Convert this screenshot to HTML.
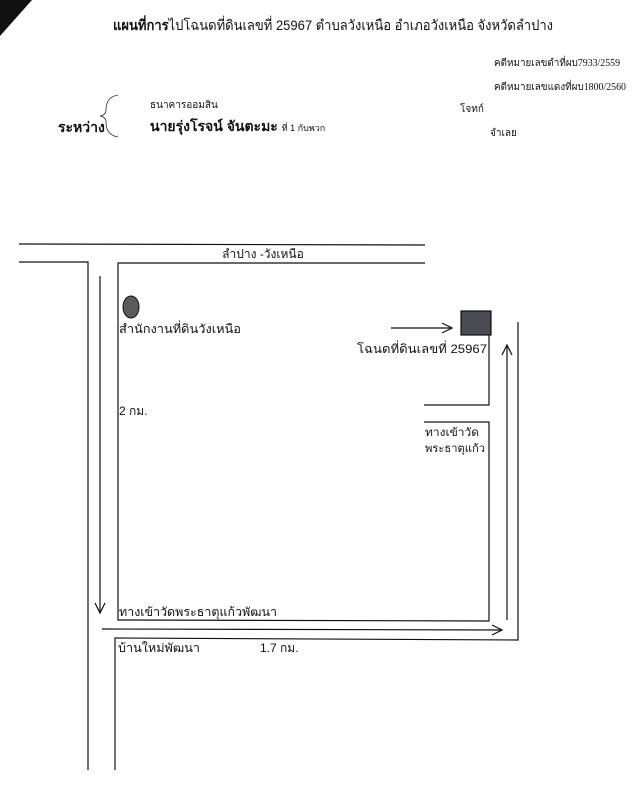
<!DOCTYPE html>
<html><head><meta charset="utf-8"><style>
body{margin:0;background:#fff;}
svg text{font-family:"Liberation Sans","Noto Sans CJK SC",sans-serif;fill:#111;}
</style></head><body>
<svg width="641" height="800" viewBox="0 0 641 800" xmlns="http://www.w3.org/2000/svg">
<rect width="641" height="800" fill="#fff"/>
<polygon points="0,0 32,0 0,36" fill="#111"/>
<text x="113" y="30" font-size="14" textLength="440" lengthAdjust="spacingAndGlyphs"><tspan font-weight="bold">แผนที่การ</tspan>ไปโฉนดที่ดินเลขที่  25967  ตำบลวังเหนือ  อำเภอวังเหนือ จังหวัดลำปาง</text>
<text x="494" y="66" font-size="10" textLength="126" lengthAdjust="spacingAndGlyphs" style="font-family:'Liberation Serif','Noto Sans CJK SC',serif">คดีหมายเลขดำที่ผบ7933/2559</text>
<text x="494" y="90" font-size="10" textLength="132" lengthAdjust="spacingAndGlyphs" style="font-family:'Liberation Serif','Noto Sans CJK SC',serif">คดีหมายเลขแดงที่ผบ1800/2560</text>
<text x="150" y="108" font-size="10">ธนาคารออมสิน</text>
<text x="460" y="112" font-size="10">โจทก์</text>
<text x="58" y="132" font-size="14" font-weight="bold">ระหว่าง</text>
<path d="M118,95 Q106,97 106,110 Q106,115 100,116 Q106,117 106,122 Q106,135 118,137" fill="none" stroke="#333" stroke-width="0.8"/>
<text x="150" y="131" font-size="14" font-weight="bold">นายรุ่งโรจน์  จันตะมะ <tspan font-size="9" font-weight="normal">ที่ 1 กับพวก</tspan></text>
<text x="490" y="136" font-size="10">จำเลย</text>
<g stroke="#111" stroke-width="1.2" fill="none">
<line x1="19" y1="244" x2="425" y2="245"/>
<polyline points="19,262 88,262 88,770"/>
<polyline points="425,263 118,263 118,620 489,621 489,422 424,422"/>
<polyline points="424,405 489,405 489,322"/>
<polyline points="518,322 518,640 115,638 115,770"/>
<line x1="100" y1="276" x2="100" y2="612"/>
<polyline points="95,603 100,613 105,603"/>
<line x1="102" y1="629" x2="502" y2="630"/>
<polyline points="492,625 502,630 492,635"/>
<line x1="507" y1="620" x2="507" y2="345"/>
<polyline points="502,355 507,345 512,355"/>
<line x1="391" y1="328" x2="452" y2="328"/>
<polyline points="442,323 452,328 442,333"/>
</g>
<ellipse cx="131" cy="307" rx="8" ry="11" fill="#5a5a5e" stroke="#111" stroke-width="1"/>
<rect x="461" y="311" width="30" height="24" fill="#4a4a52" stroke="#111" stroke-width="1.2"/>
<text x="263" y="258" font-size="12" text-anchor="middle">ลำปาง  -วังเหนือ</text>
<text x="119" y="333" font-size="12" textLength="122" lengthAdjust="spacingAndGlyphs">สำนักงานที่ดินวังเหนือ</text>
<text x="487" y="353" font-size="12" text-anchor="end" textLength="130" lengthAdjust="spacingAndGlyphs">โฉนดที่ดินเลขที่ 25967</text>
<text x="119" y="415" font-size="12">2 กม.</text>
<text x="425" y="436" font-size="11" textLength="54" lengthAdjust="spacingAndGlyphs">ทางเข้าวัด</text>
<text x="425" y="452" font-size="11" textLength="60" lengthAdjust="spacingAndGlyphs">พระธาตุแก้ว</text>
<text x="119" y="616" font-size="12" textLength="158" lengthAdjust="spacingAndGlyphs">ทางเข้าวัดพระธาตุแก้วพัฒนา</text>
<text x="118" y="652" font-size="12" textLength="82" lengthAdjust="spacingAndGlyphs">บ้านใหม่พัฒนา</text>
<text x="260" y="652" font-size="12">1.7 กม.</text>
</svg>
</body></html>
